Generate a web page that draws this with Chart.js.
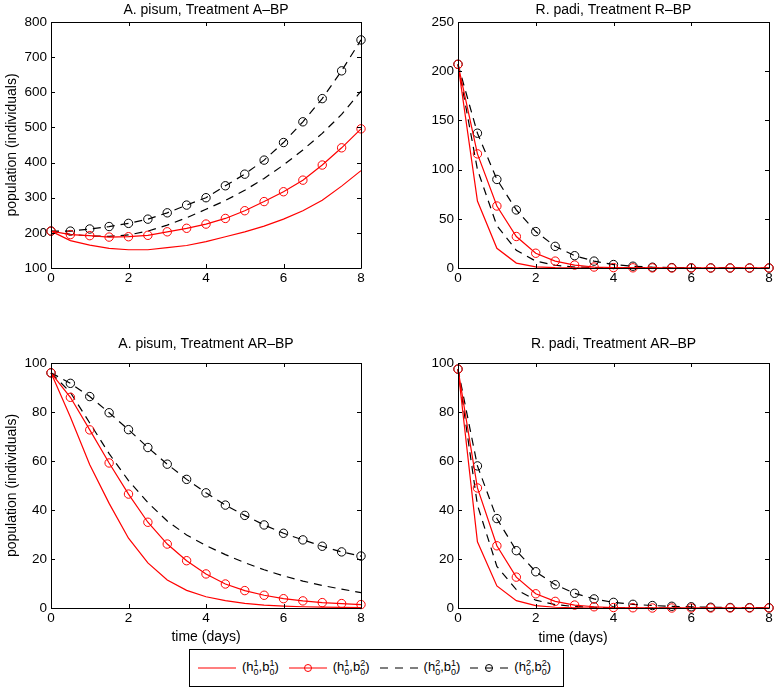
<!DOCTYPE html>
<html>
<head>
<meta charset="utf-8">
<script src="https://cdn.jsdelivr.net/npm/chart.js@4.4.1/dist/chart.umd.min.js"></script>
<style>
  body { margin: 0; background: #fff; width: 777px; height: 691px; position: relative; overflow: hidden;
         font-family: "Liberation Sans", Arial, sans-serif; }
  canvas { position: absolute; }
  #legend { position: absolute; left: 189px; top: 649px; width: 375px; height: 38px; box-sizing: border-box;
            border: 1px solid #000; display: flex; align-items: center; padding-left: 8px; font-size: 13px; color: #000; }
  .item { display: flex; align-items: center; margin-right: 10px; white-space: nowrap; }
  .item svg { margin-right: 6px; }
  .ss { display: inline-block; vertical-align: -4px; font-size: 9px; line-height: 9px; }
</style>
</head>
<body>
<canvas id="c1" width="371" height="290" style="left:0;top:0"></canvas>
<canvas id="c2" width="357" height="290" style="left:420px;top:0"></canvas>
<canvas id="c3" width="371" height="318" style="left:0;top:330px"></canvas>
<canvas id="c4" width="400" height="318" style="left:377px;top:330px"></canvas>
<div id="legend"></div>
<script>
// time grid (days)
const days = [0, 0.5, 1, 1.5, 2, 2.5, 3, 3.5, 4, 4.5, 5, 5.5, 6, 6.5, 7, 7.5, 8];

// legend: superscripts of (h0, b0)
const legendKeys = [[1, 1], [1, 2], [2, 1], [2, 2]];

// A. pisum, Treatment A-BP
const apH1B1 = [205, 178, 165, 156, 152, 152, 158, 164, 175, 189, 203, 219, 239, 263, 293, 333, 377];
const apH1B2 = [205, 195, 192, 188, 189, 193, 203, 213, 225, 241, 263, 289, 317, 350, 393, 442, 496];
const apH2B1 = [205, 196, 191, 190, 194, 205, 222, 243, 267, 292, 321, 355, 393, 436, 483, 537, 603];
const apH2B2 = [205, 205, 211, 218, 227, 239, 257, 279, 300, 334, 367, 407, 457, 516, 582, 661, 749];

// R. padi, Treatment R-BP
const rpH1B1 = [207, 68, 20, 5, 1.2, 0.3, 0.1, 0, 0, 0, 0, 0, 0, 0, 0, 0, 0];
const rpH1B2 = [207, 116, 63, 32, 15, 7, 3, 1, 0.4, 0.2, 0.1, 0, 0, 0, 0, 0, 0];
const rpH2B1 = [207, 100, 43, 18, 7, 2.8, 1, 0.4, 0.2, 0.1, 0, 0, 0, 0, 0, 0, 0];
const rpH2B2 = [207, 137, 90, 59, 37, 22, 12.5, 7, 3.5, 1.8, 0.8, 0.4, 0.2, 0.1, 0.05, 0, 0];

// A. pisum, Treatment AR-BP
const aaH1B1 = [96, 78, 58.5, 42.7, 28.5, 18.4, 11.4, 7.2, 4.6, 3.0, 1.9, 1.2, 0.8, 0.5, 0.35, 0.25, 0.2];
const aaH1B2 = [96, 86, 72.7, 59.2, 46.5, 35, 26.1, 19.3, 13.9, 9.8, 7.1, 5.2, 3.8, 2.9, 2.2, 1.8, 1.4];
const aaH2B1 = [96, 88, 75.5, 63, 52, 43, 35.5, 29.8, 25.5, 21.8, 18.5, 15.6, 13.1, 11, 9.2, 7.7, 6.3];
const aaH2B2 = [96, 91.7, 86.3, 79.7, 72.8, 65.5, 58.7, 52.5, 47, 42, 37.8, 33.9, 30.5, 27.8, 25.2, 22.9, 21.2];

// R. padi, Treatment AR-BP
const raH1B1 = [97.5, 27, 9, 3, 1, 0.3, 0.1, 0, 0, 0, 0, 0, 0, 0, 0, 0, 0];
const raH1B2 = [97.5, 49, 25.4, 12.6, 5.8, 2.7, 1.2, 0.5, 0.2, 0.1, 0, 0, 0, 0, 0, 0, 0];
const raH2B1 = [97.5, 42, 17, 7.5, 3.2, 1.4, 0.6, 0.3, 0.1, 0, 0, 0, 0, 0, 0, 0, 0];
const raH2B2 = [97.5, 58, 36.5, 23.4, 14.8, 9.5, 6, 3.7, 2.3, 1.5, 1.0, 0.7, 0.5, 0.3, 0.2, 0.15, 0.1];

const seriesStyle = [
  { color: "#ff0000", dash: [], marker: false },
  { color: "#ff0000", dash: [], marker: true },
  { color: "#000000", dash: [8, 6], marker: false },
  { color: "#000000", dash: [8, 6], marker: true },
];

Chart.defaults.font.family = '"Liberation Sans", Arial, sans-serif';
Chart.defaults.color = "#000";

// matlab style box with inward ticks
const boxTicks = {
  id: "boxTicks",
  afterDraw(chart) {
    const { ctx, chartArea: a, scales: { x, y } } = chart;
    const len = 4;
    ctx.save();
    ctx.strokeStyle = "#000";
    ctx.lineWidth = 1;
    ctx.beginPath();
    ctx.rect(a.left + 0.5, a.top + 0.5, a.right - a.left, a.bottom - a.top);
    x.ticks.forEach((t) => {
      const px = Math.round(x.getPixelForValue(t.value)) + 0.5;
      ctx.moveTo(px, a.bottom); ctx.lineTo(px, a.bottom - len);
      ctx.moveTo(px, a.top); ctx.lineTo(px, a.top + len);
    });
    y.ticks.forEach((t) => {
      const py = Math.round(y.getPixelForValue(t.value)) + 0.5;
      ctx.moveTo(a.left, py); ctx.lineTo(a.left + len, py);
      ctx.moveTo(a.right, py); ctx.lineTo(a.right - len, py);
    });
    ctx.stroke();
    ctx.restore();
  },
};

function makeChart(id, o) {
  return new Chart(document.getElementById(id), {
    type: "line",
    data: {
      labels: days,
      datasets: o.series.map((vals, i) => ({
        label: "h" + legendKeys[i][0] + "b" + legendKeys[i][1],
        data: vals,
        borderColor: seriesStyle[i].color,
        borderWidth: 1.2,
        borderDash: seriesStyle[i].dash,
        pointRadius: seriesStyle[i].marker ? 4.2 : 0,
        pointBorderColor: seriesStyle[i].color,
        pointBackgroundColor: "rgba(0,0,0,0)",
        pointBorderWidth: 1,
        tension: 0,
        clip: false,
      })),
    },
    options: {
      responsive: false,
      animation: false,
      devicePixelRatio: 1,
      layout: { padding: { right: o.padRight, top: 0, bottom: 0, left: 0 } },
      plugins: {
        legend: { display: false },
        tooltip: { enabled: false },
        title: {
          display: true,
          text: o.title,
          fullSize: false,
          color: "#000",
          font: { size: 14, weight: "normal" },
          padding: o.titlePad,
        },
        subtitle: o.subtitle
          ? {
              display: true,
              text: "time (days)",
              position: "bottom",
              fullSize: true,
              color: "#000",
              font: { size: 14, weight: "normal" },
              padding: { top: 1.6, bottom: 1.6 },
            }
          : { display: false },
      },
      scales: {
        x: {
          type: "linear",
          min: 0,
          max: 8,
          ticks: { stepSize: 2, padding: 2, color: "#000", font: { size: 13.5 } },
          grid: { display: false, drawTicks: false },
          border: { display: false },
          title: o.xTitle
            ? { display: true, text: "time (days)", color: "#000", font: { size: 14 }, padding: { top: 0, bottom: 2.1 } }
            : { display: false },
          afterFit: (s) => {
            s.height = o.xHeight;
            s.paddingLeft = 0;
            s.paddingRight = 0;
          },
        },
        y: {
          min: o.min,
          max: o.max,
          ticks: { stepSize: o.step, padding: 4, color: "#000", font: { size: 13.5 } },
          grid: { display: false, drawTicks: false },
          border: { display: false },
          title: o.yTitle
            ? { display: true, text: "population (individuals)", color: "#000", font: { size: 14 }, padding: { top: 4.1, bottom: 0 } }
            : { display: false },
          afterFit: (s) => {
            s.width = o.yWidth;
            s.paddingTop = 0;
            s.paddingBottom = 0;
          },
        },
      },
    },
    plugins: [boxTicks],
  });
}

makeChart("c1", {
  title: "A. pisum, Treatment A\u2013BP", series: [apH1B1, apH1B2, apH2B1, apH2B2],
  min: 100, max: 800, step: 100, yTitle: true, yWidth: 51, padRight: 10,
  xHeight: 22, titlePad: { top: 2.1, bottom: 3.1 },
});
makeChart("c2", {
  title: "R. padi, Treatment R\u2013BP", series: [rpH1B1, rpH1B2, rpH2B1, rpH2B2],
  min: 0, max: 250, step: 50, yTitle: false, yWidth: 38, padRight: 8,
  xHeight: 22, titlePad: { top: 2.1, bottom: 3.1 },
});
makeChart("c3", {
  title: "A. pisum, Treatment AR\u2013BP", series: [aaH1B1, aaH1B2, aaH2B1, aaH2B2],
  min: 0, max: 100, step: 20, yTitle: true, yWidth: 51, padRight: 10,
  xHeight: 40, xTitle: true, titlePad: { top: 6.1, bottom: 10.1 },
});
makeChart("c4", {
  title: "R. padi, Treatment AR\u2013BP", series: [raH1B1, raH1B2, raH2B1, raH2B2],
  min: 0, max: 100, step: 20, yTitle: false, yWidth: 81, padRight: 8,
  xHeight: 20, subtitle: true, titlePad: { top: 6.1, bottom: 10.1 },
});

// html legend with stacked super/subscripts
const legend = document.getElementById("legend");
legendKeys.forEach(([h, b], i) => {
  const st = seriesStyle[i];
  const dash = st.dash.length ? ` stroke-dasharray="8 7"` : "";
  const mark = st.marker ? `<circle cx="19" cy="5" r="3.5" fill="none" stroke="${st.color}" stroke-width="1"/>` : "";
  const item = document.createElement("div");
  item.className = "item";
  item.innerHTML =
    `<svg width="38" height="10"><line x1="0" y1="5" x2="38" y2="5" stroke="${st.color}" stroke-width="1.2"${dash}/>${mark}</svg>` +
    `<span>(h<span class="ss">${h}<br>0</span>,b<span class="ss">${b}<br>0</span>)</span>`;
  legend.appendChild(item);
});
</script>
</body>
</html>
